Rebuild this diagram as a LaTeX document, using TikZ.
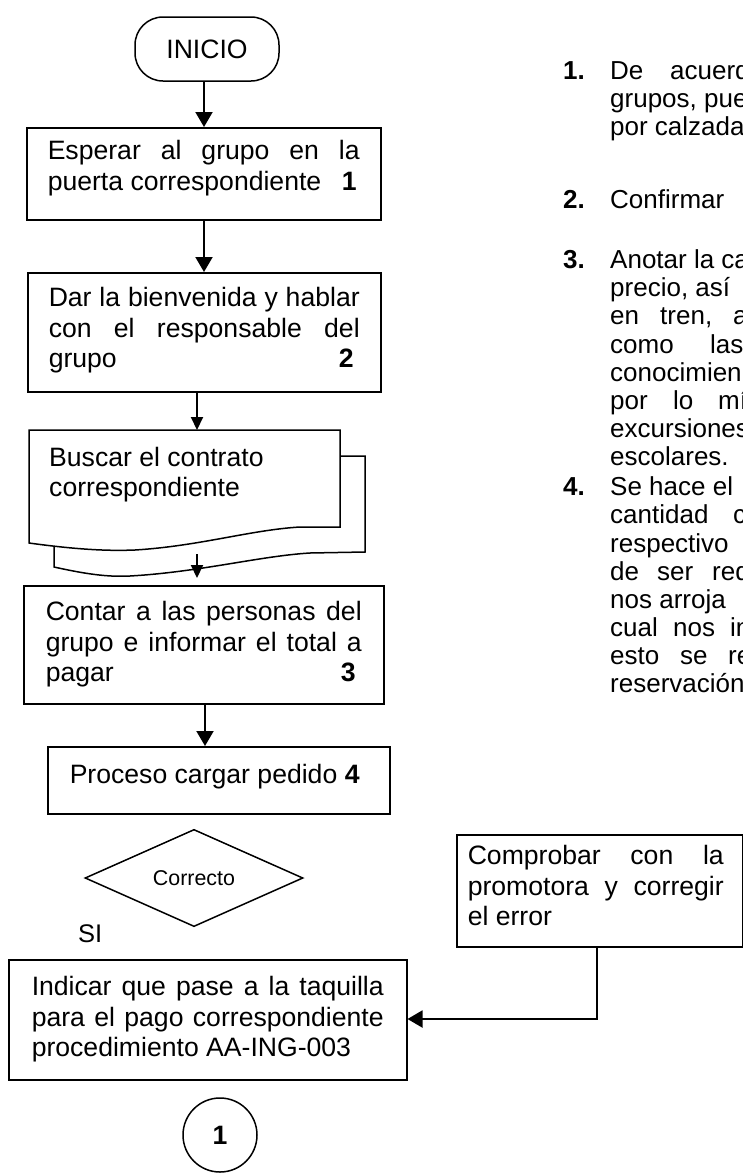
\documentclass[tikz,border=0pt]{standalone}
\usepackage{fontspec}
\setmainfont{Liberation Sans}
\usetikzlibrary{shapes.geometric,arrows.meta,calc}
\newcommand\jl[1]{\makebox[\linewidth][s]{#1}}
\newcommand\lr[2]{\makebox[\linewidth]{#1\hfill#2}}
\newcommand\fs[1]{\fontsize{#1}{30.5}\selectfont}
\begin{document}
\begin{tikzpicture}[x=1pt,y=-1pt,
  lst/.style={font=\fs{26}, inner sep=0pt, anchor=base west},
  box/.style={draw, line width=1.5pt, rectangle, inner ysep=0pt, anchor=north west, font=\fs{26.6}},
  arr/.style={-{Triangle[length=15pt,width=17pt]}, line width=2pt},
  arrs/.style={-{Triangle[length=13pt,width=12pt]}, line width=2pt},
]
\useasboundingbox (0,0) rectangle (743,1173);
\clip (0,0) rectangle (743,1173);

% start
\node[draw, line width=1.5pt, rounded corners=28pt, minimum width=144pt, minimum height=64pt, inner sep=0pt, font=\fs{26.6}] (start) at (207,49) {INICIO};

% box 1
\node[box, inner xsep=21pt, text height=32pt, text depth=60pt] (b1) at (26,127)
  {\parbox[t]{312pt}{\jl{Esperar al grupo en la}\\\lr{puerta correspondiente}{\textbf{1}\hspace*{3pt}}}};

% box 2
\node[box, inner xsep=21pt, text height=34pt, text depth=85pt] (b2) at (27,272)
  {\parbox[t]{311pt}{\jl{Dar la bienvenida y hablar}\\\jl{con el responsable del}\\\lr{grupo}{\textbf{2}\hspace*{6pt}}}};

% document shape
\draw[line width=1.5pt, fill=white] (54,456) -- (365,456) -- (365,552) -- (310,553)
  .. controls (260,556) and (200,572) .. (130,576)
  .. controls (110,577) and (90,575) .. (54,567) -- cycle;
\draw[line width=1.5pt, fill=white] (29,430) -- (340,430) -- (340,527) -- (300,527)
  .. controls (250,530) and (200,546) .. (135,550)
  .. controls (110,551) and (80,550) .. (29,543) -- cycle;
\node[inner xsep=20pt, inner ysep=0pt, anchor=north west, text height=36pt, text depth=61pt, font=\fs{26.6}] (doc) at (29,430)
  {\parbox[t]{271pt}{Buscar el contrato\\correspondiente}};

% box 4
\node[box, inner xsep=22pt, text height=35pt, text depth=83pt] (b4) at (23,585)
  {\parbox[t]{316pt}{\jl{Contar a las personas del}\\\jl{grupo e informar el total a}\\\lr{pagar}{\textbf{3}\hspace*{6pt}}}};

% box 5
\node[box, inner xsep=22pt, text height=37pt, text depth=30pt] (b5) at (47,746)
  {\parbox[t]{298pt}{Proceso cargar pedido \textbf{4}}};

% decision
\node[draw, diamond, line width=1.5pt, minimum width=218pt, minimum height=72pt, inner sep=0pt, font=\fs{21.4}] (dec) at (194,878) {Correcto};
\node[anchor=base west, inner sep=0pt, font=\fs{25.5}] (si) at (78,942) {SI};

% correction box
\node[box, inner xsep=11pt, text height=30pt, text depth=82pt] (cb) at (456,834)
  {\parbox[t]{264pt}{\makebox[256pt][s]{Comprobar con la}\\\makebox[256pt][s]{promotora y corregir}\\el error}};

% indicar box
\node[box, inner xsep=23pt, text height=36pt, text depth=84pt] (ind) at (8,959)
  {\parbox[t]{352pt}{\jl{Indicar que pase a la taquilla}\\\jl{para el pago correspondiente}\\procedimiento AA-ING-003}};

% connector circle
\node[draw, circle, line width=1.5pt, minimum size=74pt, inner sep=0pt, font=\bfseries\fs{26.6}] (endc) at (220,1135) {1};

% arrows
\coordinate (xa) at (204,0);
\draw[arr] (start.south -| xa) -- (b1.north -| xa);
\draw[arr] (b1.south -| xa) -- (b2.north -| xa);
\coordinate (xb) at (197,0);
\draw[arrs] (b2.south -| xb) -- (doc.north -| xb);
\coordinate (d1) at (197,554);
\coordinate (d2) at (197,578);
\draw[arrs] (d1) -- (d2);
\coordinate (xc) at (205,0);
\draw[arr] (b4.south -| xc) -- (b5.north -| xc);
\coordinate (cx) at (597,1019);
\draw[arr] (cb.south -| cx) -- (cx) -- (ind.east |- cx);

% right-hand list
\node[lst] (n1) at (563,79) {\textbf{1.}};
\node[lst] (l1a) at (610,79) {De};
\node[lst] (l1b) at (670,79) {acuerd};
\node[lst] (l1c) at (610,107) {grupos, pue};
\node[lst] (l1d) at (610,135) {por calzada};
\node[lst] (n2) at (563,208) {\textbf{2.}};
\node[lst] (l2a) at (610,208) {Confirmar};
\node[lst] (n3) at (563,268) {\textbf{3.}};
\node[lst] (l3a) at (610,268) {Anotar la ca};
\node[lst] (l3b) at (610,296) {precio, así};
\node[lst] (l3c) at (610,324) {en};
\node[lst] (l3d) at (660,324) {tren,};
\node[lst] (l3e) at (733,324) {a};
\node[lst] (l3f) at (610,353) {como};
\node[lst] (l3g) at (710,353) {las};
\node[lst] (l3h) at (610,381) {conocimien};
\node[lst] (l3i) at (610,409) {por};
\node[lst] (l3j) at (673,409) {lo};
\node[lst] (l3k) at (718,409) {mí};
\node[lst] (l3l) at (610,437) {excursiones};
\node[lst] (l3m) at (610,465) {escolares.};
\node[lst] (n4) at (563,495) {\textbf{4.}};
\node[lst] (l4a) at (610,495) {Se hace el};
\node[lst] (l4b) at (610,523) {cantidad};
\node[lst] (l4c) at (733,523) {c};
\node[lst] (l4d) at (610,552) {respectivo};
\node[lst] (l4e) at (610,580) {de};
\node[lst] (l4f) at (657,580) {ser};
\node[lst] (l4g) at (712,580) {req};
\node[lst] (l4h) at (610,608) {nos arroja};
\node[lst] (l4i) at (610,636) {cual};
\node[lst] (l4j) at (673,636) {nos};
\node[lst] (l4k) at (730,636) {in};
\node[lst] (l4l) at (610,664) {esto};
\node[lst] (l4m) at (680,664) {se};
\node[lst] (l4n) at (728,664) {re};
\node[lst] (l4o) at (610,692) {reservación};
\end{tikzpicture}
\end{document}
